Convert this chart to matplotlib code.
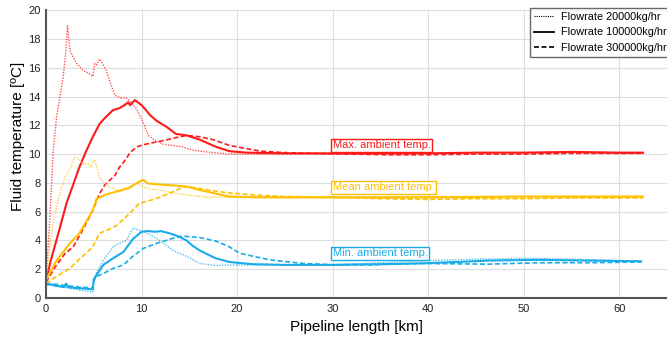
import numpy as np
import matplotlib
matplotlib.use("Agg")
import matplotlib.pyplot as plt

plt.rcParams['font.family'] = ['Liberation Sans', 'DejaVu Sans']

# max ambient temp (red)
x_max_20 = [0, 0.4, 0.76, 1.1, 1.46, 1.8, 2.05, 2.25, 2.5, 2.8, 3.2, 3.9, 4.5, 4.9, 5.1, 5.3, 5.6, 5.9, 6.3, 6.7, 7.2, 7.8, 8.4, 8.9, 9.5, 10.1, 10.7, 11.3, 12.2, 13.2, 14.3, 15.2, 16.1, 17.5, 19.2, 22, 25, 30, 35, 40, 45, 50, 55, 60, 62.5]
y_max_20 = [1.2, 5.5, 10.3, 12.5, 14.0, 15.4, 17.0, 18.9, 17.2, 16.8, 16.3, 15.8, 15.6, 15.4, 16.3, 16.2, 16.6, 16.3, 15.8, 15.0, 14.1, 13.9, 13.9, 13.6, 13.1, 12.3, 11.3, 11.0, 10.7, 10.6, 10.5, 10.3, 10.2, 10.1, 10.0, 10.0, 10.0, 10.0, 10.0, 10.05, 10.05, 10.1, 10.1, 10.05, 10.05]
x_max_100 = [0, 0.5, 1.0, 1.5, 2.15, 2.8, 3.5, 4.2, 4.9, 5.6, 6.3, 7.0, 7.7, 8.2, 8.6, 8.8, 9.3, 10.0, 10.4, 10.9, 11.6, 12.6, 13.6, 14.7, 16.1, 17.8, 19.2, 21, 25, 30, 35, 40, 45, 50, 55, 60, 62.5]
y_max_100 = [1.25, 2.6, 3.8, 5.0, 6.6, 7.8, 9.1, 10.2, 11.2, 12.1, 12.6, 13.05, 13.2, 13.4, 13.6, 13.4, 13.75, 13.4, 13.1, 12.7, 12.3, 11.9, 11.4, 11.3, 11.0, 10.5, 10.2, 10.1, 10.05, 10.05, 10.05, 10.05, 10.1, 10.1, 10.15, 10.1, 10.1]
x_max_300 = [0, 1.0, 2.0, 2.85, 3.9, 4.9, 5.6, 6.2, 6.7, 7.2, 7.7, 8.2, 8.8, 9.5, 10.2, 10.9, 11.6, 12.4, 13.3, 14.0, 14.7, 15.4, 16.1, 17.5, 19.2, 20.8, 22.5, 25, 28, 32, 36, 40, 45, 50, 55, 60, 62.5]
y_max_300 = [1.1, 2.2, 3.1, 3.55, 4.8, 6.1, 7.25, 7.9, 8.2, 8.5, 9.1, 9.5, 10.1, 10.5, 10.65, 10.75, 10.85, 10.95, 11.1, 11.2, 11.3, 11.25, 11.2, 11.0, 10.6, 10.4, 10.2, 10.1, 10.05, 10.0, 9.95, 9.95, 10.0, 10.0, 10.05, 10.05, 10.05]

# mean ambient temp (yellow)
x_mean_20 = [0, 0.4, 0.8, 1.5, 2.15, 2.6, 3.0, 3.5, 3.9, 4.4, 4.7, 5.1, 5.6, 6.1, 6.7, 7.4, 8.4, 9.0, 9.5, 10.2, 11.0, 11.9, 13.3, 14.3, 16.8, 19.2, 25, 30, 40, 50, 62.5]
y_mean_20 = [1.0, 3.6, 5.5, 7.4, 8.65, 9.1, 9.8, 9.6, 9.3, 9.35, 9.1, 9.6, 8.4, 8.0, 7.7, 7.5, 7.5, 7.7, 8.0, 7.7, 7.55, 7.5, 7.3, 7.2, 7.0, 7.0, 6.95, 6.95, 6.95, 6.95, 7.0]
x_mean_100 = [0, 1.0, 2.5, 3.5, 4.9, 5.3, 6.3, 7.7, 8.8, 9.8, 10.2, 10.7, 12.6, 14.7, 16.1, 17.8, 19.2, 22, 30, 40, 50, 62.5]
y_mean_100 = [1.25, 2.5, 3.8, 4.5, 6.1, 6.9, 7.2, 7.45, 7.7, 8.1, 8.2, 7.95, 7.85, 7.75, 7.5, 7.25, 7.05, 7.0, 7.0, 7.0, 7.05, 7.05]
x_mean_300 = [0, 1.1, 2.5, 3.5, 4.9, 5.6, 6.7, 7.4, 8.4, 9.8, 10.2, 11.0, 11.9, 13.0, 14.0, 14.7, 16.1, 17.5, 19.2, 22, 25, 30, 35, 40, 45, 50, 55, 62.5]
y_mean_300 = [1.0, 1.5, 2.05, 2.7, 3.55, 4.5, 4.8, 5.05, 5.65, 6.6, 6.65, 6.8, 7.0, 7.3, 7.6, 7.75, 7.6, 7.45, 7.3, 7.15, 7.05, 7.0, 6.9, 6.85, 6.9, 6.9, 6.95, 6.95]

# min ambient temp (blue)
x_min_20 = [0, 1.0, 2.2, 3.5, 4.9, 5.0, 5.3, 6.0, 7.0, 7.7, 8.4, 9.1, 9.8, 10.9, 11.9, 13.3, 14.7, 16.1, 17.8, 19.2, 25, 30, 35, 40, 45, 50, 55, 60, 62.3]
y_min_20 = [0.9, 0.85, 0.7, 0.55, 0.4, 1.2, 1.8, 2.6, 3.55, 3.8, 4.0, 4.85, 4.7, 4.4, 4.0, 3.3, 2.9, 2.4, 2.25, 2.3, 2.3, 2.3, 2.45, 2.6, 2.7, 2.75, 2.7, 2.6, 2.55]
x_min_100 = [0, 0.5, 1.0, 1.5, 1.9, 2.1, 2.3, 3.0, 4.0, 4.9, 5.0, 5.3, 6.0, 7.0, 8.1, 9.1, 10.0, 10.6, 11.5, 12.0, 12.9, 13.8, 14.7, 15.4, 16.1, 17.0, 17.8, 19.2, 21.6, 25, 30, 35, 39, 43, 46.3, 51.6, 56.8, 62.3]
y_min_100 = [0.95, 0.95, 0.85, 0.8, 0.75, 1.0, 0.75, 0.7, 0.65, 0.6, 1.3, 1.6, 2.3, 2.75, 3.2, 4.1, 4.6, 4.65, 4.6, 4.65, 4.5, 4.3, 4.0, 3.6, 3.3, 3.0, 2.75, 2.5, 2.35, 2.3, 2.3, 2.35, 2.4, 2.5, 2.6, 2.65, 2.6, 2.55]
x_min_300 = [0, 1.0, 2.2, 3.5, 4.9, 5.0, 5.3, 6.0, 7.0, 8.1, 9.1, 10.2, 11.6, 13.3, 14.3, 16.1, 17.8, 19.2, 20.3, 23.4, 26.9, 30.4, 33.9, 39.1, 46.3, 51.6, 56.8, 62.3]
y_min_300 = [1.0, 0.95, 0.85, 0.75, 0.7, 1.2, 1.5, 1.7, 2.05, 2.3, 2.9, 3.45, 3.8, 4.15, 4.3, 4.2, 3.95, 3.55, 3.1, 2.65, 2.4, 2.3, 2.3, 2.4, 2.35, 2.45, 2.45, 2.5]

legend_labels = ['Flowrate 20000kg/hr', 'Flowrate 100000kg/hr', 'Flowrate 300000kg/hr']
notes = ['Max. ambient temp.', 'Mean ambient temp.', 'Min. ambient temp.']
note_x = 30
note_y = [10.6, 7.7, 3.1]

red = '#FF1A1A'
yellow = '#FFC000'
blue = '#1AACE8'

fig = plt.figure(figsize=(6.67, 3.39), dpi=100)
ax = fig.add_axes([0.069, 0.121, 0.931, 0.849])

groups = [
    (red, x_max_20, y_max_20, x_max_100, y_max_100, x_max_300, y_max_300),
    (yellow, x_mean_20, y_mean_20, x_mean_100, y_mean_100, x_mean_300, y_mean_300),
    (blue, x_min_20, y_min_20, x_min_100, y_min_100, x_min_300, y_min_300),
]
for c, x1, y1, x2, y2, x3, y3 in groups:
    ax.plot(x1, y1, color=c, lw=1.0, ls=(0, (1, 1)), alpha=0.75)
    ax.plot(x2, y2, color=c, lw=1.5, ls='-')
    ax.plot(x3, y3, color=c, lw=1.2, ls=(0, (3, 1.5)))

for txt, yy, c in zip(notes, note_y, [red, yellow, blue]):
    ax.text(note_x, yy, txt, color=c, fontsize=8, va='center', ha='left',
            bbox=dict(boxstyle='square,pad=0.15', fc='white', ec=c, lw=1))

# legend with black handles
h = [ax.plot([], [], color='k', lw=0.8, ls=(0, (1, 1)))[0],
     ax.plot([], [], color='k', lw=1.3, ls='-')[0],
     ax.plot([], [], color='k', lw=1.2, ls=(0, (3, 1.5)))[0]]
leg = ax.legend(h, legend_labels, loc='upper left', bbox_to_anchor=(0.779, 1.007),
                fontsize=7.8, frameon=True, fancybox=False, borderaxespad=0,
                handlelength=1.9, handletextpad=0.6, labelspacing=0.5, borderpad=0.35)
leg.get_frame().set_edgecolor('#444444')
leg.get_frame().set_linewidth(1.0)

ax.set_xlim(0, 65)
ax.set_ylim(0, 20)
ax.set_xticks(np.arange(0, 61, 10))
ax.set_yticks(np.arange(0, 21, 2))
ax.grid(True, color='#DDDDDD', lw=0.8)
ax.set_axisbelow(True)
ax.tick_params(length=0, labelsize=8, pad=4, colors='#222222')
for s in ['top', 'right']:
    ax.spines[s].set_visible(False)
for s in ['left', 'bottom']:
    ax.spines[s].set_color('#555555')
    ax.spines[s].set_linewidth(1.5)

ax.set_xlabel('Pipeline length [km]', fontsize=11, labelpad=5)
ax.set_ylabel('Fluid temperature [ºC]', fontsize=11)
ax.yaxis.set_label_coords(-0.034, 0.5625)

fig.savefig('out.png', dpi=100)
